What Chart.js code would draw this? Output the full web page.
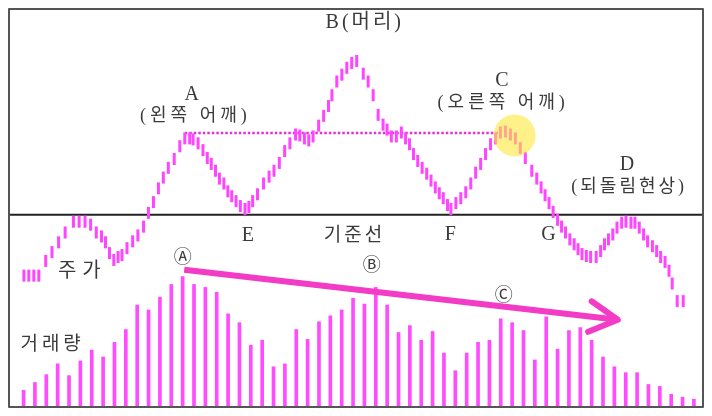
<!DOCTYPE html>
<html>
<head>
<meta charset="utf-8">
<script src="https://cdn.jsdelivr.net/npm/chart.js@4/dist/chart.umd.min.js"></script>
<style>
html, body { margin: 0; padding: 0; background: #fff; }
#wrap { width: 712px; height: 416px; }
</style>
</head>
<body>
<div id="wrap"><canvas id="hs"></canvas></div>
<script>
// 거래량 (한 칸 = 하루)
const volume = [17, 25, 33, 44, 32, 47, 58, 51, 66, 79, 104, 99, 112, 125, 133, 125, 122, 117, 95, 86,
                63, 68, 41, 44, 79, 69, 87, 93, 99, 111, 105, 122, 104, 76, 83, 68, 77, 55, 37, 55,
                66, 68, 90, 86, 78, 48, 92, 59, 78, 81, 68, 51, 41, 35, 35, 23, 21, 13, 10, 8];

// 주가 (시점, 값)
const priceT = [0.03, 0.46, 0.90, 1.34, 1.95, 2.50, 3.08, 3.66, 4.39, 4.89,
                5.41, 5.90, 6.40, 6.86, 7.21, 7.56, 7.94, 8.32, 8.66, 9.10,
                9.60, 10.06, 10.56, 10.99, 11.43, 11.87, 12.30, 12.74, 13.26, 13.75,
                14.19, 14.62, 14.92, 15.36, 15.79, 16.17, 16.52, 16.89, 17.24, 17.63,
                17.98, 18.32, 18.70, 19.08, 19.49, 19.83, 20.16, 20.59, 21.12, 21.61,
                22.04, 22.51, 22.98, 23.44, 23.94, 24.31, 24.72, 25.10, 25.48, 25.97,
                26.41, 26.84, 27.14, 27.57, 28.01, 28.45, 28.88, 29.32, 29.90, 30.33,
                30.77, 31.21, 31.64, 31.99, 32.37, 32.81, 33.25, 33.62, 33.97, 34.32,
                34.69, 35.08, 35.48, 35.86, 36.24, 36.59, 36.94, 37.31, 37.61, 38.05,
                38.48, 38.92, 39.36, 39.79, 40.23, 40.66, 41.10, 41.54, 41.97, 42.41,
                42.85, 43.29, 43.72, 44.16, 44.73, 45.17, 45.55, 45.90, 46.25, 46.61,
                47.00, 47.35, 47.70, 48.08, 48.46, 48.80, 49.15, 49.53, 49.91, 50.40,
                50.79, 51.13, 51.48, 51.86, 52.23, 52.64, 53.02, 53.46, 53.81, 54.19,
                54.57, 54.92, 55.35, 55.72, 56.07, 56.46, 56.81, 57.09, 57.53, 58.06];
const priceV = [134, 134, 134, 134, 149, 158, 168, 178, 189, 189,
                189, 186, 178, 174, 168, 157, 150, 153, 155, 162,
                169, 175, 184, 198, 209, 223, 234, 244, 253, 266,
                274, 274, 273, 269, 262, 254, 248, 241, 233, 228,
                220, 215, 210, 205, 202, 204, 210, 217, 228, 235,
                241, 249, 261, 269, 278, 277, 274, 272, 276, 287,
                297, 307, 318, 332, 339, 346, 351, 353, 340, 332,
                318, 298, 288, 283, 276, 276, 280, 274, 268, 258,
                251, 244, 238, 231, 224, 218, 213, 206, 202, 208,
                213, 219, 228, 239, 248, 258, 268, 274, 280, 281,
                278, 274, 264, 254, 241, 233, 224, 216, 208, 199,
                191, 184, 178, 171, 166, 161, 156, 154, 153, 153,
                159, 166, 171, 176, 183, 188, 189, 188, 188, 183,
                176, 169, 164, 159, 153, 148, 139, 126, 108, 108];

const baseLine = 196;                 // 기준선
const shoulderT = [14.19, 41.8];      // A ~ C 점선
const shoulderV = 279.5;
const arrowT = [14.14, 52.3];         // 거래량 감소 화살표
const arrowV = [140, 89];
const highlight = { t: 43.22, v: 277 };

const labels = [
  { text: 'B(머리)', t: 29.9, v: 392, size: 20, sp: 3 },
  { text: 'A', t: 14.8, v: 319, size: 20, sp: 0 },
  { text: '(왼쪽 어깨)', t: 14.95, v: 297, size: 18, sp: 4 },
  { text: 'C', t: 42.1, v: 333, size: 20, sp: 0 },
  { text: '(오른쪽 어깨)', t: 42.04, v: 310, size: 18, sp: 4 },
  { text: 'D', t: 53.1, v: 247, size: 20, sp: 0 },
  { text: '(되돌림현상)', t: 53.17, v: 224, size: 18, sp: 3 },
  { text: 'E', t: 19.75, v: 175, size: 20, sp: 0 },
  { text: '기준선', t: 29.0, v: 174, size: 19, sp: 3 },
  { text: 'F', t: 37.55, v: 176, size: 20, sp: 0 },
  { text: 'G', t: 46.19, v: 176, size: 20, sp: 0 },
  { text: '주가', t: 4.91, v: 138, size: 20, sp: 6 },
  { text: '거래량', t: 2.38, v: 63, size: 19, sp: 4 },
  { text: 'Ⓐ', t: 14.0, v: 152, size: 18, sp: 0 },
  { text: 'Ⓑ', t: 30.65, v: 144, size: 18, sp: 0 },
  { text: 'Ⓒ', t: 42.26, v: 113, size: 18, sp: 0 }
];

const decor = {
  id: 'decor',
  beforeDatasetsDraw(chart) {
    const { ctx, chartArea: a, scales: { y } } = chart;
    ctx.save();
    ctx.strokeStyle = '#222';
    ctx.lineWidth = 2;
    ctx.beginPath();
    ctx.moveTo(a.left, y.getPixelForValue(baseLine));
    ctx.lineTo(a.right, y.getPixelForValue(baseLine));
    ctx.stroke();
    ctx.restore();
  },
  afterDatasetsDraw(chart) {
    const { ctx, chartArea: a, scales: { x, y } } = chart;
    ctx.save();
    // 화살표
    const x1 = x.getPixelForValue(arrowT[0]), y1 = y.getPixelForValue(arrowV[0]);
    const x2 = x.getPixelForValue(arrowT[1]), y2 = y.getPixelForValue(arrowV[1]);
    ctx.strokeStyle = '#f23cc6';
    ctx.lineWidth = 6;
    ctx.lineCap = 'butt';
    ctx.beginPath();
    ctx.moveTo(x1, y1);
    ctx.lineTo(x2, y2);
    ctx.stroke();
    const ang = Math.atan2(y2 - y1, x2 - x1);
    ctx.lineCap = 'round';
    ctx.lineJoin = 'round';
    ctx.beginPath();
    ctx.moveTo(x2 - 32 * Math.cos(ang - 0.5), y2 - 32 * Math.sin(ang - 0.5));
    ctx.lineTo(x2, y2);
    ctx.lineTo(x2 - 32 * Math.cos(ang + 0.5), y2 - 32 * Math.sin(ang + 0.5));
    ctx.stroke();

    // 커서 강조
    ctx.fillStyle = 'rgba(255, 232, 60, 0.6)';
    ctx.beginPath();
    ctx.arc(x.getPixelForValue(highlight.t), y.getPixelForValue(highlight.v), 21, 0, Math.PI * 2);
    ctx.fill();

    // 테두리
    ctx.strokeStyle = '#555';
    ctx.lineWidth = 2;
    ctx.strokeRect(a.left, a.top, a.right - a.left, a.bottom - a.top);

    // 글자
    ctx.fillStyle = '#3a3a3a';
    ctx.textAlign = 'center';
    ctx.textBaseline = 'middle';
    labels.forEach(l => {
      ctx.font = l.size + "px 'Liberation Serif', 'Noto Sans CJK KR', serif";
      ctx.letterSpacing = l.sp + 'px';
      ctx.fillText(l.text, x.getPixelForValue(l.t) + l.sp / 2, y.getPixelForValue(l.v));
    });
    ctx.restore();
  }
};

new Chart(document.getElementById('hs'), {
  type: 'bar',
  data: {
    datasets: [
      {
        type: 'line',
        label: '주가',
        data: priceT.map((t, i) => ({ x: t, y: priceV[i] })),
        showLine: false,
        pointStyle: 'line',
        rotation: 90,
        pointRadius: 6,
        pointBorderWidth: 3,
        pointBorderColor: '#ff45ff',
        order: 1
      },
      {
        type: 'line',
        label: '어깨선',
        data: shoulderT.map(t => ({ x: t, y: shoulderV })),
        borderColor: '#e033d2',
        borderWidth: 2.5,
        borderDash: [2.5, 2],
        pointRadius: 0,
        order: 2
      },
      {
        label: '거래량',
        data: volume.map((v, i) => ({ x: i, y: v })),
        backgroundColor: '#ff4cff',
        barThickness: 3,
        order: 3
      }
    ]
  },
  options: {
    responsive: true,
    maintainAspectRatio: false,
    devicePixelRatio: 1,
    animation: false,
    events: [],
    layout: { padding: { left: 6, right: 6, top: 4, bottom: 6 } },
    plugins: { legend: { display: false }, tooltip: { enabled: false } },
    scales: {
      x: { type: 'linear', min: -1.283, max: 59.8, offset: false, display: false },
      y: { min: 0, max: 406, display: false }
    }
  },
  plugins: [decor]
});
</script>
</body>
</html>
